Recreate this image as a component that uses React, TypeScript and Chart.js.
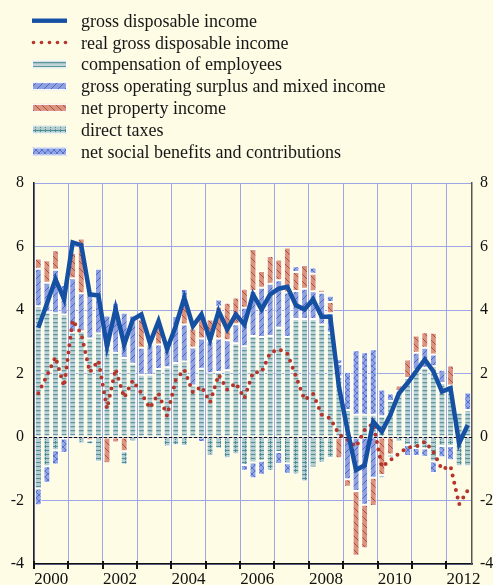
import React, { useEffect, useRef } from 'react';
import { Chart, registerables } from 'chart.js';

Chart.register(...registerables);

// ---------------- data ----------------
const quarters = [
  '2000Q1','2000Q2','2000Q3','2000Q4','2001Q1','2001Q2','2001Q3','2001Q4',
  '2002Q1','2002Q2','2002Q3','2002Q4','2003Q1','2003Q2','2003Q3','2003Q4',
  '2004Q1','2004Q2','2004Q3','2004Q4','2005Q1','2005Q2','2005Q3','2005Q4',
  '2006Q1','2006Q2','2006Q3','2006Q4','2007Q1','2007Q2','2007Q3','2007Q4',
  '2008Q1','2008Q2','2008Q3','2008Q4','2009Q1','2009Q2','2009Q3','2009Q4',
  '2010Q1','2010Q2','2010Q3','2010Q4','2011Q1','2011Q2','2011Q3','2011Q4',
  '2012Q1','2012Q2','2012Q3'
];
const yearTickLabels = ['2000', '2002', '2004', '2006', '2008', '2010', '2012'];
const yTicks = [-4, -2, 0, 2, 4, 6, 8];

const seriesNames = [
  'gross disposable income',
  'real gross disposable income',
  'compensation of employees',
  'gross operating surplus and mixed income',
  'net property income',
  'direct taxes',
  'net social benefits and contributions'
];

const grossDisposableIncome = [
  3.44, 4.20, 4.97, 4.34, 6.13, 6.04, 4.49, 4.46, 2.85, 4.04, 2.91, 3.70, 3.86, 2.96, 3.65, 2.77,
  3.49, 4.39, 3.49, 3.86, 3.06, 3.97, 3.39, 3.86, 3.54, 4.49, 4.02, 4.49, 4.67, 4.73, 4.15, 4.02,
  4.34, 3.79, 3.79, 1.59, 0.22, -1.04, -0.89, 0.49, 0.17, 0.70, 1.38, 1.70, 2.07, 2.44, 2.07, 1.43,
  1.54, -0.20, 0.38
];
const realGrossDisposableIncome = [
  1.38, 1.93, 2.52, 1.59, 3.68, 3.25, 2.04, 2.41, 0.89, 2.14, 1.24, 1.78, 1.38, 0.91, 1.38, 0.66,
  1.80, 2.12, 1.40, 1.59, 1.09, 1.96, 1.49, 1.70, 1.22, 2.04, 2.04, 2.65, 2.77, 2.63, 1.91, 1.17,
  1.36, 0.70, 0.59, 0.09, -0.09, -0.31, 0.22, 0.43, -0.94, -0.73, -0.52, -0.33, -0.31, -0.15, -0.46, -1.02,
  -0.92, -2.12, -1.68
];
const compensation = [
  4.12, 3.93, 3.90, 3.86, 3.30, 3.33, 3.10, 3.26, 2.81, 2.65, 2.49, 2.31, 1.96, 1.96, 2.14, 2.20,
  2.33, 2.38, 1.62, 2.15, 2.01, 2.05, 2.10, 2.95, 2.86, 3.18, 3.15, 3.18, 3.44, 3.15, 3.72, 3.72,
  3.72, 3.54, 3.28, 1.90, 0.85, 0.70, 0.70, 0.70, 0.65, 1.13, 1.45, 1.86, 2.12, 2.18, 2.23, 1.70,
  1.62, 0.77, 0.85
];
const operatingSurplus = [
  1.18, 0.93, 1.37, 0.93, 1.70, 1.20, 1.50, 2.04, 1.02, 1.58, 1.42, 1.52, 0.85, 0.95, 0.77, 0.80,
  1.48, 1.16, 1.20, 0.95, 1.01, 1.05, 0.95, 0.60, 1.21, 1.42, 1.55, 1.65, 1.50, 1.40, 0.88, 0.95,
  0.87, 1.00, 0.62, 0.40, -1.33, -1.70, -2.13, -1.28, 0, 0, 0, 0, 0.53, 0.63, 0.37, 0.42,
  0, 0, 0
];
const propertyIncome = [
  0.32, 0.71, 0.61, 0.07, 0.80, 1.72, -0.10, 0, -0.83, -0.17, -0.45, 0, 0.90, 0, 0.55, 0,
  0, 0.84, 0.60, 0.80, 0.68, 1.00, 1.18, 0.84, 0.60, 1.32, 0.53, 0.87, 0.65, 1.42, 0.60, 0.75,
  0.55, 0.10, 0.35, -0.67, -0.24, -2.04, -1.37, -0.89, -1.20, -0.55, 0.17, 0.58, 0.55, 0.49, 0.68, 0,
  0.63, 0, 0
];
const directTaxes = [
  -1.62, -0.92, -0.42, -0.05, 0, -0.20, -0.13, -0.78, 0, 0, -0.42, -0.15, 0, 0, -0.05, -0.30,
  -0.26, -0.28, -0.03, 0, -0.58, -0.36, -0.67, -0.54, -0.88, -0.80, -0.75, -1.07, -0.47, -0.83, -1.18, -1.40,
  -0.96, -0.81, -0.66, 0, 0, 0, 0, 0, -0.10, -0.10, -0.15, -0.25, -0.35, -0.36, -0.77, -0.28,
  -0.28, -0.92, -0.92
];
const socialBenefits = [
  -0.53, -0.52, -0.45, -0.45, 0, 0, 0, 0, 0, 0, 0, 0, 0, 0, 0, 0,
  0, 0.28, 0, -0.16, 0, 0.23, 0, 0, -0.18, -0.50, -0.44, 0, -0.38, -0.33, 0.18, 0,
  0.20, 0, 0.20, 0.15, 1.20, 2.03, 1.97, 2.06, 0.85, 0.24, 0, -0.35, -0.25, -0.26, -0.36, -0.36,
  -0.45, 0, 0.55
];

// ---------------- styles ----------------
const CREAM = '#FEFCE5';
const GRID = '#9DA7E6';
const BLUE_LINE = '#1550A3';
const RED_DOT = '#B5342C';
const FONT = '"Liberation Serif", "Times New Roman", serif';

type Drawer = (g: CanvasRenderingContext2D, w: number, h: number) => void;

function makeTile(w: number, h: number, bg: string, draw: Drawer) {
  const c = document.createElement('canvas');
  c.width = w;
  c.height = h;
  const g = c.getContext('2d') as CanvasRenderingContext2D;
  g.fillStyle = bg;
  g.fillRect(0, 0, w, h);
  draw(g, w, h);
  return c;
}

function diag(g: CanvasRenderingContext2D, w: number, h: number, color: string, forward: boolean) {
  g.strokeStyle = color;
  g.lineWidth = 1;
  g.beginPath();
  for (let k = -1; k <= 1; k++) {
    if (forward) {
      g.moveTo(k * w, h);
      g.lineTo(k * w + w, 0);
    } else {
      g.moveTo(k * w, 0);
      g.lineTo(k * w + w, h);
    }
  }
  g.stroke();
}

function buildPatterns(ctx: CanvasRenderingContext2D) {
  const comp = makeTile(6, 4, '#C0D5D8', (g) => {
    g.fillStyle = '#5E979D';
    g.fillRect(0, 2, 6, 1);
    g.fillStyle = '#A3C2C5';
    g.fillRect(0, 3, 6, 1);
  });
  const gos = makeTile(7, 7, '#8FA0E1', (g, w, h) => diag(g, w, h, '#4A66C6', true));
  const npi = makeTile(7, 7, '#D9937F', (g, w, h) => diag(g, w, h, '#AE4C3E', false));
  const dt = makeTile(5, 4, '#B3CDD0', (g) => {
    g.fillStyle = '#4F8D95';
    g.fillRect(0, 2, 5, 1);
    g.fillRect(0, 1, 1, 3);
  });
  const nsb = makeTile(6, 6, '#94A6E3', (g, w, h) => {
    diag(g, w, h, '#5672CF', true);
    diag(g, w, h, '#5672CF', false);
  });
  const p = (c: HTMLCanvasElement) => ctx.createPattern(c, 'repeat') as CanvasPattern;
  return [p(comp), p(gos), p(npi), p(dt), p(nsb)];
}

// ---------------- plugins ----------------
const legendPlugin = {
  id: 'customLegend',
  afterDraw(chart: any) {
    const ctx = chart.ctx as CanvasRenderingContext2D;
    const datasets = chart.data.datasets;
    ctx.save();
    datasets.forEach((ds: any, i: number) => {
      const cy = 20.7 + 21.8 * i;
      const x0 = 32;
      const w = 35;
      if (i === 0) {
        ctx.fillStyle = BLUE_LINE;
        ctx.fillRect(x0, cy - 2.2, w, 4.4);
      } else if (i === 1) {
        ctx.fillStyle = RED_DOT;
        for (let k = 0; k < 5; k++) {
          ctx.beginPath();
          ctx.arc(x0 + 1.5 + 8 * k, cy, 1.8, 0, Math.PI * 2);
          ctx.fill();
        }
      } else {
        ctx.fillStyle = ds.backgroundColor;
        ctx.fillRect(x0, cy - 4, w, 8);
        ctx.strokeStyle = '#ffffff';
        ctx.lineWidth = 1;
        ctx.strokeRect(x0 + 0.5, cy - 3.5, w - 1, 7);
      }
      ctx.fillStyle = '#161616';
      ctx.font = '18px ' + FONT;
      ctx.textAlign = 'left';
      ctx.textBaseline = 'alphabetic';
      ctx.fillText(ds.label, 81, cy + 6);
    });
    ctx.restore();
  }
};

const axisDecorPlugin = {
  id: 'axisDecor',
  afterDatasetDraw(chart: any, args: any) {
    if (args.index !== 2) return;
    const { ctx, chartArea } = chart;
    const y0 = chart.scales.y.getPixelForValue(0);
    ctx.save();
    ctx.strokeStyle = '#111';
    ctx.lineWidth = 1;
    ctx.setLineDash([3, 2]);
    ctx.beginPath();
    ctx.moveTo(chartArea.left, Math.round(y0) + 0.5);
    ctx.lineTo(chartArea.right, Math.round(y0) + 0.5);
    ctx.stroke();
    ctx.restore();
  },
  afterDraw(chart: any) {
    const { ctx, chartArea } = chart;
    const xs = chart.scales.x;
    const half = (xs.getPixelForValue(1) - xs.getPixelForValue(0)) / 2;
    ctx.save();
    ctx.strokeStyle = '#111';
    ctx.lineWidth = 2;
    for (let i = 0; i < quarters.length; i += 4) {
      const px = Math.round(xs.getPixelForValue(i) - half);
      ctx.beginPath();
      ctx.moveTo(px, chartArea.bottom - 3);
      ctx.lineTo(px, chartArea.bottom + 5);
      ctx.stroke();
    }
    ctx.restore();
  }
};

export default function App() {
  const canvasRef = useRef<HTMLCanvasElement | null>(null);

  useEffect(() => {
    const canvas = canvasRef.current;
    if (!canvas) return;
    const ctx = canvas.getContext('2d') as CanvasRenderingContext2D;
    const [pComp, pGos, pNpi, pDt, pNsb] = buildPatterns(ctx);

    const barCommon = {
      type: 'bar' as const,
      yAxisID: 'y',
      borderColor: '#ffffff',
      borderWidth: 1,
      borderSkipped: false,
      barPercentage: 0.8,
      categoryPercentage: 1.0,
    };

    const chart = new Chart(canvas, {
      type: 'bar',
      data: {
        labels: quarters,
        datasets: [
          {
            type: 'line',
            label: seriesNames[0],
            data: grossDisposableIncome,
            yAxisID: 'y',
            stack: 'gdi',
            borderColor: BLUE_LINE,
            backgroundColor: BLUE_LINE,
            borderWidth: 4.5,
            pointRadius: 0,
            tension: 0,
            borderJoinStyle: 'miter',
            fill: false,
          } as any,
          {
            type: 'line',
            label: seriesNames[1],
            data: realGrossDisposableIncome,
            yAxisID: 'y',
            stack: 'real',
            borderColor: RED_DOT,
            backgroundColor: RED_DOT,
            borderWidth: 4,
            borderDash: [0, 7.5],
            borderCapStyle: 'round',
            pointRadius: 0,
            tension: 0,
            fill: false,
          } as any,
          { ...barCommon, label: seriesNames[2], data: compensation, backgroundColor: pComp } as any,
          { ...barCommon, label: seriesNames[3], data: operatingSurplus, backgroundColor: pGos } as any,
          { ...barCommon, label: seriesNames[4], data: propertyIncome, backgroundColor: pNpi } as any,
          { ...barCommon, label: seriesNames[5], data: directTaxes, backgroundColor: pDt } as any,
          { ...barCommon, label: seriesNames[6], data: socialBenefits, backgroundColor: pNsb } as any,
        ],
      },
      options: {
        responsive: false,
        maintainAspectRatio: false,
        animation: false,
        devicePixelRatio: 1,
        events: [],
        layout: { padding: { top: 183, left: 0, right: 0, bottom: 0 } },
        plugins: {
          legend: { display: false },
          tooltip: { enabled: false },
        },
        scales: {
          x: {
            stacked: true,
            offset: true,
            grid: {
              offset: true,
              drawTicks: false,
              lineWidth: 1,
              color: (c: any) => (c.index % 4 === 0 && c.index < quarters.length ? GRID : 'rgba(0,0,0,0)'),
            },
            border: { display: true, color: '#111', width: 1.5 },
            ticks: {
              autoSkip: false,
              maxRotation: 0,
              minRotation: 0,
              padding: 5,
              labelOffset: 4.3,
              color: '#111',
              font: { family: FONT, size: 17 },
              callback: (_v: any, i: number) => (i % 8 === 1 ? yearTickLabels[(i - 1) / 8] : ''),
            },
            afterFit: (s: any) => { s.height = 21; },
          },
          y: {
            stacked: true,
            position: 'left',
            min: yTicks[0],
            max: yTicks[yTicks.length - 1],
            grid: { color: GRID, lineWidth: 1, drawTicks: false },
            border: { display: true, color: '#222', width: 1.5 },
            ticks: {
              stepSize: 2,
              padding: 10,
              color: '#111',
              font: { family: FONT, size: 16 },
            },
            afterFit: (s: any) => { s.width = 34; },
          },
          y2: {
            position: 'right',
            min: yTicks[0],
            max: yTicks[yTicks.length - 1],
            grid: { display: false, drawTicks: false },
            border: { display: true, color: '#555', width: 1.5 },
            ticks: {
              stepSize: 2,
              padding: 8,
              color: '#111',
              font: { family: FONT, size: 16 },
            },
            afterFit: (s: any) => { s.width = 21; },
          },
        },
      } as any,
      plugins: [legendPlugin, axisDecorPlugin],
    });

    return () => chart.destroy();
  }, []);

  return (
    <div
      style={{
        position: 'fixed',
        left: 0,
        top: 0,
        width: 493,
        height: 585,
        background: CREAM,
        overflow: 'hidden',
      }}
    >
      <canvas ref={canvasRef} width={493} height={585} style={{ display: 'block' }} />
    </div>
  );
}
